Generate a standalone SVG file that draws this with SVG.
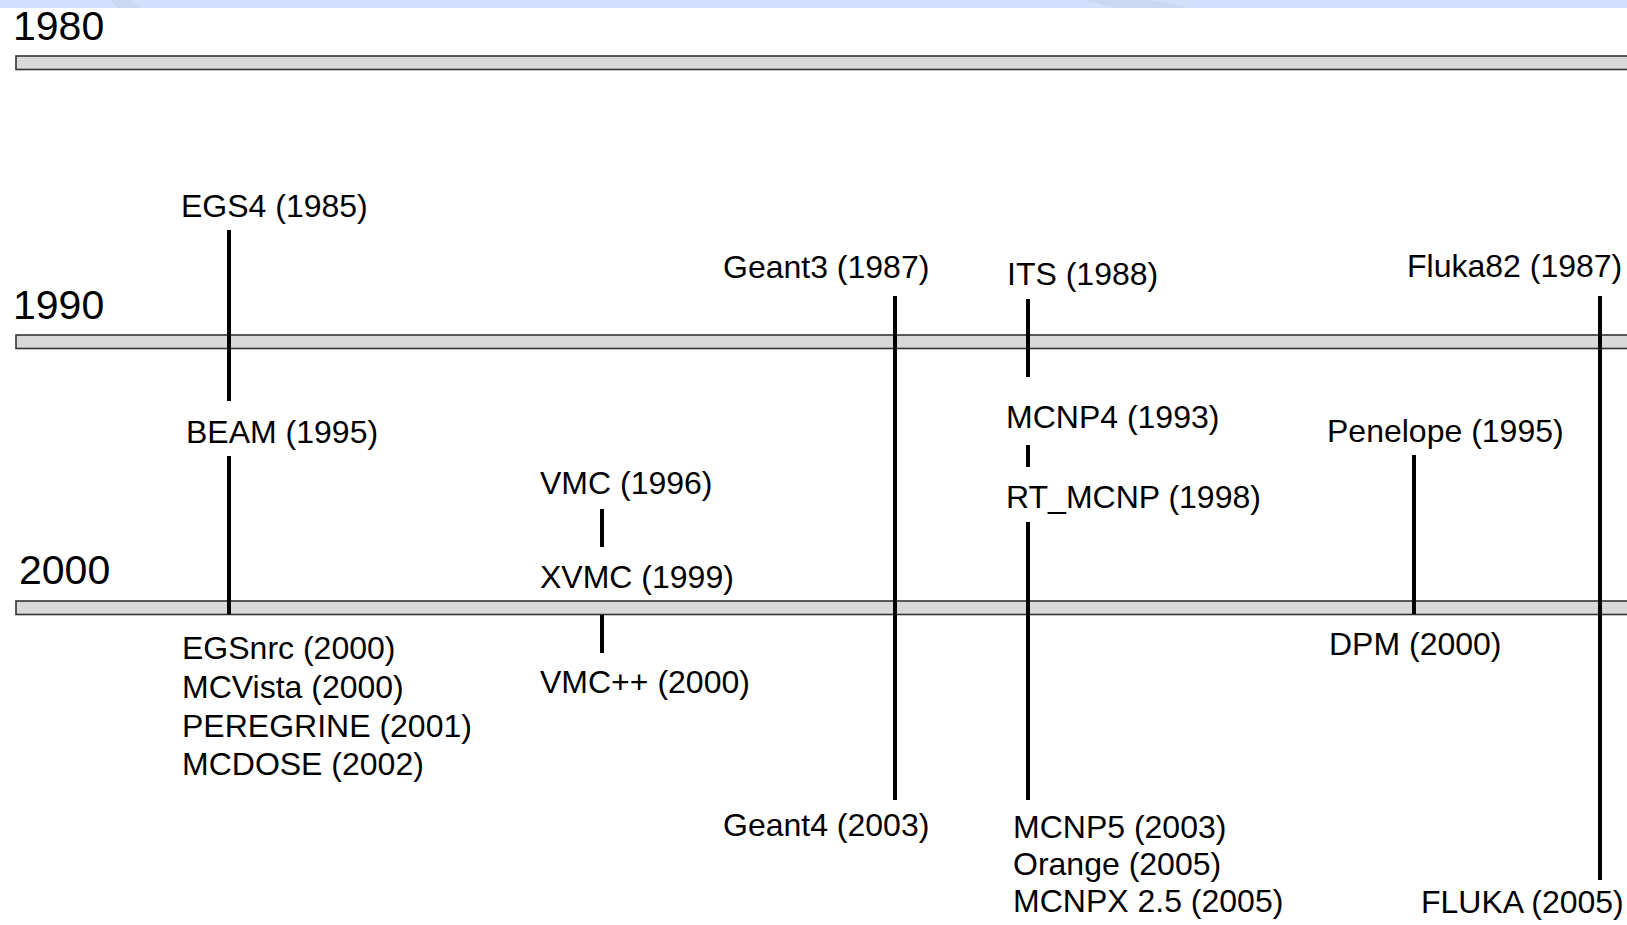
<svg xmlns="http://www.w3.org/2000/svg" width="1627" height="925" viewBox="0 0 1627 925">
  <style>
    .bar { fill: #d9d9d9; stroke: #333333; stroke-width: 1.6; }
    .yr { font-family: "Liberation Sans", Arial, sans-serif; font-size: 41px; fill: #000; }
    .lbl { font-family: "Liberation Sans", Arial, sans-serif; font-size: 32px; fill: #000; }
    .ln { stroke: #000; stroke-width: 4; fill: none; }
  </style>
  <rect x="0" y="0" width="1627" height="925" fill="#ffffff"/>
  <rect x="0" y="0" width="1627" height="8" fill="#d1e1fb"/>
  <polygon points="1085,0 1150,0 1190,8 1115,8" fill="#c9d9f1"/>
  <polygon points="110,0 130,0 140,8 118,8" fill="#c9d9f1"/>

  <g id="timeline">
    <g id="year-1980">
      <rect class="bar" x="16" y="56" width="1630" height="13.5"/>
      <text class="yr" x="13" y="40">1980</text>
    </g>
    <g id="year-1990">
      <rect class="bar" x="16" y="335" width="1630" height="13.5"/>
      <text class="yr" x="13" y="319">1990</text>
    </g>
    <g id="year-2000">
      <rect class="bar" x="16" y="601" width="1630" height="13.5"/>
      <text class="yr" x="19" y="584">2000</text>
    </g>
  </g>

  <g id="connectors">
    <line class="ln" x1="229" y1="230" x2="229" y2="401"/>
    <line class="ln" x1="229" y1="456" x2="229" y2="614"/>
    <line class="ln" x1="602" y1="509" x2="602" y2="547"/>
    <line class="ln" x1="602" y1="615" x2="602" y2="653"/>
    <line class="ln" x1="895" y1="296" x2="895" y2="800"/>
    <line class="ln" x1="1028" y1="299" x2="1028" y2="377"/>
    <line class="ln" x1="1028" y1="445" x2="1028" y2="467"/>
    <line class="ln" x1="1028" y1="522" x2="1028" y2="800"/>
    <line class="ln" x1="1414" y1="455" x2="1414" y2="614"/>
    <line class="ln" x1="1600" y1="296" x2="1600" y2="880"/>
  </g>

  <g id="node-egs4"><text class="lbl" x="181" y="217">EGS4 (1985)</text></g>
  <g id="node-beam"><text class="lbl" x="186" y="443">BEAM (1995)</text></g>
  <g id="node-egsnrc">
    <text class="lbl" x="182" y="659">EGSnrc (2000)</text>
    <text class="lbl" x="182" y="698">MCVista (2000)</text>
    <text class="lbl" x="182" y="737">PEREGRINE (2001)</text>
    <text class="lbl" x="182" y="775">MCDOSE (2002)</text>
  </g>
  <g id="node-vmc"><text class="lbl" x="540" y="494">VMC (1996)</text></g>
  <g id="node-xvmc"><text class="lbl" x="540" y="588">XVMC (1999)</text></g>
  <g id="node-vmcpp"><text class="lbl" x="540" y="693">VMC++ (2000)</text></g>
  <g id="node-geant3"><text class="lbl" x="723" y="278">Geant3 (1987)</text></g>
  <g id="node-geant4"><text class="lbl" x="723" y="836">Geant4 (2003)</text></g>
  <g id="node-its"><text class="lbl" x="1007" y="285">ITS (1988)</text></g>
  <g id="node-mcnp4"><text class="lbl" x="1006" y="428">MCNP4 (1993)</text></g>
  <g id="node-rtmcnp"><text class="lbl" x="1006" y="508">RT_MCNP (1998)</text></g>
  <g id="node-mcnp5">
    <text class="lbl" x="1013" y="838">MCNP5 (2003)</text>
    <text class="lbl" x="1013" y="875">Orange (2005)</text>
    <text class="lbl" x="1013" y="912">MCNPX 2.5 (2005)</text>
  </g>
  <g id="node-penelope"><text class="lbl" x="1327" y="442">Penelope (1995)</text></g>
  <g id="node-dpm"><text class="lbl" x="1329" y="655">DPM (2000)</text></g>
  <g id="node-fluka82"><text class="lbl" x="1407" y="277">Fluka82 (1987)</text></g>
  <g id="node-fluka"><text class="lbl" x="1421" y="913">FLUKA (2005)</text></g>
</svg>
